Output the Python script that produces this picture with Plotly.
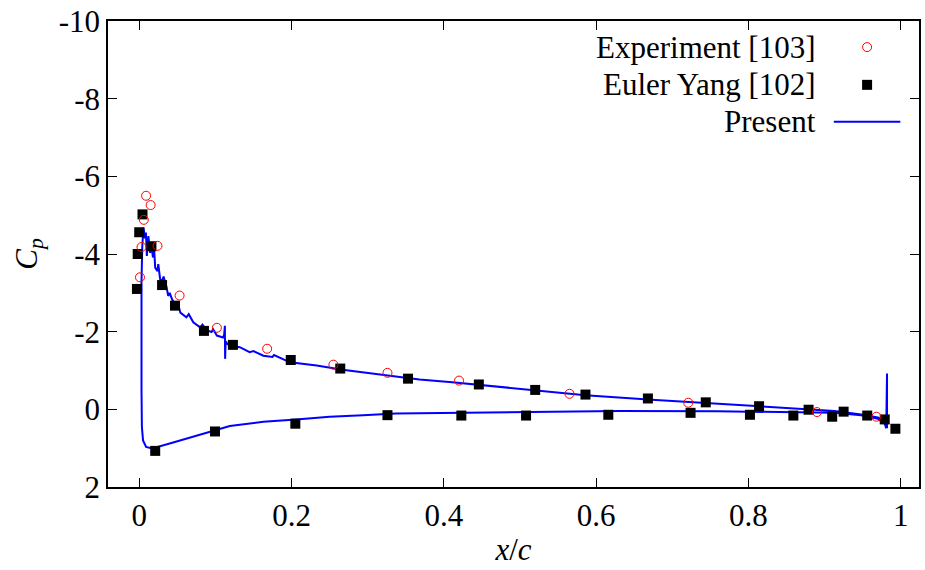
import plotly.graph_objects as go

# Experiment [103]
exp_x = [0.001, 0.003, 0.006, 0.009, 0.015, 0.024, 0.053, 0.102, 0.168, 0.255,
         0.326, 0.420, 0.565, 0.721, 0.890, 0.968]
exp_cp = [-3.40, -4.18, -4.88, -5.50, -5.26, -4.21, -2.93, -2.10, -1.56, -1.15,
          -0.94, -0.74, -0.40, -0.17, 0.07, 0.19]

# Euler Yang [102]
eul_x = [-0.003, -0.002, 0.000, 0.0043, 0.016, 0.030, 0.047, 0.085, 0.123, 0.199,
         0.264, 0.353, 0.446, 0.520, 0.586, 0.668, 0.744, 0.814, 0.879, 0.925,
         0.956, 0.979, 0.993,
         0.021, 0.0995, 0.205, 0.326, 0.423, 0.508, 0.616, 0.724, 0.802, 0.859, 0.910]
eul_cp = [-3.10, -4.00, -4.56, -5.02, -4.20, -3.20, -2.67, -2.02, -1.66, -1.27,
          -1.05, -0.79, -0.64, -0.50, -0.38, -0.28, -0.18, -0.08, 0.01, 0.06,
          0.16, 0.26, 0.50,
          1.07, 0.57, 0.37, 0.15, 0.16, 0.16, 0.14, 0.09, 0.14, 0.16, 0.19]

# Present (lower surface TE->LE, then upper surface LE->TE)
pre_x = [0.981, 0.979, 0.970, 0.948, 0.913, 0.848, 0.760, 0.630, 0.499, 0.381,
         0.337, 0.294, 0.250, 0.206, 0.163, 0.119, 0.075, 0.040, 0.017, 0.009,
         0.005, 0.0035, 0.003, 0.0028, 0.003, 0.004,
         0.0056, 0.0075, 0.0088, 0.010, 0.012, 0.0144, 0.0157, 0.018, 0.0196, 0.021,
         0.024, 0.025, 0.0275, 0.030, 0.032, 0.036, 0.038, 0.040, 0.043, 0.049,
         0.051, 0.054, 0.062, 0.065, 0.071, 0.080, 0.083, 0.089, 0.095, 0.097,
         0.102, 0.110, 0.1115, 0.1125, 0.1128, 0.1135, 0.116, 0.119, 0.126, 0.132,
         0.145, 0.150, 0.163, 0.175, 0.177, 0.198, 0.233, 0.267, 0.302, 0.337,
         0.368, 0.411, 0.499, 0.586, 0.673, 0.760, 0.848, 0.913, 0.948, 0.970,
         0.979, 0.981, 0.982, 0.982]
pre_cp = [0.49, 0.37, 0.24, 0.15, 0.09, 0.07, 0.05, 0.04, 0.07, 0.09,
          0.11, 0.15, 0.19, 0.26, 0.32, 0.43, 0.67, 0.88, 1.01, 0.97,
          0.80, 0.45, -0.50, -2.00, -3.30, -4.20,
          -4.68, -4.40, -4.55, -3.95, -4.46, -4.03, -4.29, -3.91, -4.12, -3.65,
          -3.56, -3.74, -3.35, -3.31, -3.42, -3.14, -2.92, -3.00, -2.84, -2.62,
          -2.72, -2.49, -2.37, -2.45, -2.24, -2.11, -2.18, -2.03, -1.99, -2.06,
          -1.90, -1.85, -1.92, -2.15, -1.30, -1.75, -1.68, -1.66, -1.62, -1.60,
          -1.47, -1.50, -1.38, -1.35, -1.40, -1.21, -1.13, -1.02, -0.94, -0.85,
          -0.77, -0.70, -0.53, -0.36, -0.25, -0.15, -0.03, 0.04, 0.13, 0.21,
          0.32, 0.45, -0.92, 0.49]

x_ticks = [0, 0.2, 0.4, 0.6, 0.8, 1]
x_tick_text = ["0", "0.2", "0.4", "0.6", "0.8", "1"]
y_ticks = [-10, -8, -6, -4, -2, 0, 2]
y_tick_text = ["-10", "-8", "-6", "-4", "-2", "0", "2"]

legend_names = ["Experiment [103]", "Euler Yang [102]", "Present"]

FONT = "Liberation Serif"
FS = 31

fig = go.Figure()
fig.add_trace(go.Scatter(x=pre_x, y=pre_cp, mode="lines",
                         line=dict(color="#0000ff", width=2), name=legend_names[2]))
fig.add_trace(go.Scatter(x=eul_x, y=eul_cp, mode="markers",
                         marker=dict(symbol="square", size=10, color="black"),
                         name=legend_names[1]))
fig.add_trace(go.Scatter(x=exp_x, y=exp_cp, mode="markers",
                         marker=dict(symbol="circle-open", size=9, color="#ff0000",
                                     line=dict(width=1, color="#ff0000")),
                         name=legend_names[0]))

axis_common = dict(showgrid=False, zeroline=False, showline=True, linecolor="black",
                   linewidth=1.5, mirror="allticks", ticks="inside", ticklen=9,
                   tickcolor="black", tickwidth=1,
                   tickfont=dict(family=FONT, size=FS, color="black"))

fig.update_xaxes(range=[-0.041, 1.024], tickvals=x_ticks, ticktext=x_tick_text,
                 title=dict(text="<i>x</i>/<i>c</i>", font=dict(family=FONT, size=FS),
                            standoff=6),
                 **axis_common)
fig.update_yaxes(range=[2, -10], tickvals=y_ticks, ticktext=y_tick_text,
                 title=dict(text="<i>C<sub>p</sub></i>", font=dict(family=FONT, size=FS),
                            standoff=12),
                 **axis_common)

# manual gnuplot-style legend (text left of key)
rows = [0.944, 0.863, 0.784]
text_x = 0.876
for name, yy in zip(legend_names, rows):
    fig.add_annotation(xref="paper", yref="paper", x=text_x, y=yy, text=name,
                       showarrow=False, xanchor="right", yanchor="middle",
                       font=dict(family=FONT, size=FS, color="black"))
key_x = 0.936
fig.add_shape(type="circle", xref="paper", yref="paper", xsizemode="pixel",
              ysizemode="pixel", xanchor=key_x, yanchor=rows[0],
              x0=-4.5, x1=4.5, y0=-4.5, y1=4.5, line=dict(color="#ff0000", width=1))
fig.add_shape(type="rect", xref="paper", yref="paper", xsizemode="pixel",
              ysizemode="pixel", xanchor=key_x, yanchor=rows[1],
              x0=-5, x1=5, y0=-5, y1=5, line=dict(width=0), fillcolor="black")
fig.add_shape(type="line", xref="paper", yref="paper", x0=0.895, x1=0.977,
              y0=rows[2], y1=rows[2], line=dict(color="#0000ff", width=2))

fig.update_layout(width=925, height=570, showlegend=False,
                  paper_bgcolor="white", plot_bgcolor="white",
                  margin=dict(l=108, r=4, t=19, b=83),
                  font=dict(family=FONT, size=FS, color="black"))

fig.write_html("out.html")
